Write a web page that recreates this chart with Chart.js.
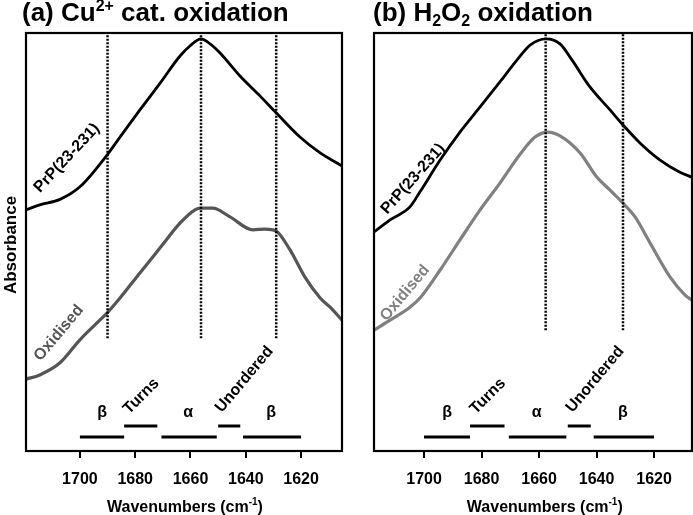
<!DOCTYPE html>
<html><head><meta charset="utf-8">
<script src="https://cdn.jsdelivr.net/npm/chart.js@4.4.1/dist/chart.umd.min.js"></script>
<style>
html,body{margin:0;padding:0;background:#fff;}
#wrap{position:relative;width:693px;height:515px;overflow:hidden;background:#fff;}
canvas{position:absolute;top:0;}
</style></head><body>
<div id="wrap">
<canvas id="ca" width="350" height="515" style="left:0px"></canvas>
<canvas id="cb" width="343" height="515" style="left:350px"></canvas>
</div>
<script>
// ---------- data ----------
const tickValues = [1700, 1680, 1660, 1640, 1620];

// Panel (a) Cu2+ catalysed oxidation
const wnA_prp  = [1719.5,1714.5,1707.2,1700,1690.2,1685.5,1678.3,1671.0,1663.8,1660.2,1656.2,1652.9,1649.3,1642.1,1634.8,1629.0,1620.4,1613.1,1605.2];
const absA_prp = [57.7,58.9,60.2,63.2,70.8,75.1,81.6,88.0,94.5,96.9,98.6,97.4,95.2,89.7,84.9,80.9,75.1,71.3,68.2];
const wnA_ox   = [1719.5,1714.5,1707.2,1700,1692.8,1690.2,1685.5,1678.3,1671.0,1663.8,1658.4,1656.2,1651.9,1645.7,1637.4,1633.0,1629.0,1624.0,1618.6,1613.1,1609.5,1605.2];
const absA_ox  = [17.2,18.2,21.1,26.6,31.3,33.0,36.6,42.6,48.6,54.5,57.7,58.1,58.1,56.0,52.9,53.1,52.6,48.1,41.6,36.6,34.4,31.3];
const markersA = [1690, 1656.2, 1629];

// Panel (b) H2O2 oxidation
const wnB_prp  = [1717.4,1711.8,1704.9,1701.4,1694.4,1687.5,1680.5,1673.6,1667.7,1663.1,1657.6,1652.7,1648.5,1642.3,1635.3,1630.8,1624.9,1617.9,1611.0,1606.8];
const absB_prp = [52.4,55.3,58.4,62.0,69.6,76.3,82.3,88.3,93.5,97.1,98.6,97.4,93.5,87.1,81.6,78.0,73.7,69.6,66.7,65.5];
const wnB_ox   = [1717.4,1711.8,1704.9,1701.4,1694.4,1687.5,1680.5,1673.6,1666.6,1661.4,1656.9,1652.7,1645.7,1640.2,1635.3,1630.8,1626.6,1621.4,1614.4,1609.2,1606.8];
const absB_ox  = [28.9,31.3,34.4,36.6,43.3,50.5,57.7,64.1,71.0,75.1,76.3,75.4,71.3,65.8,62.4,59.3,56.0,49.8,41.6,37.3,36.1];
const markersB = [1657.7, 1630.8];

// Band assignments
const bandNames = ['β', 'Turns', 'α', 'Unordered', 'β'];
const bandStart = [1700, 1684, 1670.5, 1650, 1641];
const bandEnd   = [1684, 1672, 1650.5, 1642, 1620];
const bandLevel = [3.35, 5.98, 3.35, 5.98, 3.35];

// ---------- helpers ----------
const FONT = '"Liberation Sans", Arial, Helvetica, sans-serif';
const pts = (xs, ys) => xs.map((x, i) => ({x: x, y: ys[i]}));

function drawRuns(ctx, x, y, runs, align) {
  let total = 0;
  runs.forEach(r => { ctx.font = 'bold ' + r.size + 'px ' + FONT; r.w = ctx.measureText(r.t).width; total += r.w; });
  let cx = align === 'center' ? x - total / 2 : x;
  ctx.textAlign = 'left';
  ctx.textBaseline = 'alphabetic';
  runs.forEach(r => { ctx.font = 'bold ' + r.size + 'px ' + FONT; ctx.fillText(r.t, cx, y + (r.dy || 0)); cx += r.w; });
}

function rotText(ctx, text, x, y, deg, size, color) {
  ctx.save();
  ctx.translate(x, y);
  ctx.rotate(deg * Math.PI / 180);
  ctx.font = 'bold ' + size + 'px ' + FONT;
  ctx.fillStyle = color;
  ctx.textAlign = 'center';
  ctx.textBaseline = 'middle';
  ctx.fillText(text, 0, 0);
  ctx.restore();
}

function makeChart(canvas, cfg) {
  const datasets = [];
  cfg.markers.forEach(m => datasets.push({
    data: [{x: m, y: cfg.markerBottom}, {x: m, y: 100}],
    showLine: true, borderColor: '#000', borderWidth: 2.5, borderDash: [2, 1.5], pointRadius: 0
  }));
  bandNames.forEach((n, i) => datasets.push({
    data: [{x: bandStart[i], y: bandLevel[i]}, {x: bandEnd[i], y: bandLevel[i]}],
    showLine: true, borderColor: '#000', borderWidth: 3, pointRadius: 0, borderCapStyle: 'butt'
  }));
  datasets.push({data: pts(cfg.wnOx, cfg.absOx), showLine: true, borderColor: cfg.oxColor, borderWidth: 3.2, pointRadius: 0, cubicInterpolationMode: 'monotone'});
  datasets.push({data: pts(cfg.wnPrp, cfg.absPrp), showLine: true, borderColor: '#000', borderWidth: 2.8, pointRadius: 0, cubicInterpolationMode: 'monotone'});

  const decor = {
    id: 'decor',
    afterDraw(chart) {
      const ctx = chart.ctx, a = chart.chartArea, xs = chart.scales.x, ys = chart.scales.y;
      ctx.save();
      ctx.strokeStyle = '#000';
      ctx.lineWidth = 2.2;
      ctx.strokeRect(a.left, a.top, a.right - a.left, a.bottom - a.top);
      ctx.fillStyle = '#000';
      rotText(ctx, 'PrP(23-231)', xs.getPixelForValue(cfg.prpLab[0]), ys.getPixelForValue(cfg.prpLab[1]), cfg.prpLab[2], 16, '#000');
      rotText(ctx, 'Oxidised', xs.getPixelForValue(cfg.oxLab[0]), ys.getPixelForValue(cfg.oxLab[1]), cfg.oxLab[2], 16, cfg.oxColor);
      const bandLabWn = [1692, 1677.8, 1660.8, 1640.5, 1630.8];
      const bandLabY  = [9.3, 13.1, 9.3, 17.1, 9.3];
      const bandLabRot = [0, -45, 0, -50, 0];
      bandNames.forEach((n, i) => {
        rotText(ctx, n, xs.getPixelForValue(bandLabWn[i]), ys.getPixelForValue(bandLabY[i]), bandLabRot[i], 16, '#000');
      });
      ctx.fillStyle = '#000';
      drawRuns(ctx, cfg.titleX, 21, cfg.title, 'left');
      drawRuns(ctx, xs.getPixelForValue(cfg.axisWn), 512, [
        {t: 'Wavenumbers (cm', size: 16}, {t: '-1', size: 10, dy: -7}, {t: ')', size: 16}], 'center');
      if (cfg.ylabel) {
        ctx.save();
        ctx.translate(11, 245);
        ctx.rotate(-Math.PI / 2);
        ctx.font = 'bold 17px ' + FONT;
        ctx.textAlign = 'center';
        ctx.textBaseline = 'middle';
        ctx.fillText('Absorbance', 0, 0);
        ctx.restore();
      }
      ctx.restore();
    }
  };

  return new Chart(canvas, {
    type: 'scatter',
    data: {datasets: datasets},
    options: {
      responsive: false, animation: false, devicePixelRatio: 1,
      layout: {padding: {left: cfg.padLeft, right: cfg.padRight, top: 33, bottom: 0}},
      plugins: {legend: {display: false}, tooltip: {enabled: false}},
      scales: {
        x: {
          type: 'linear', reverse: true, min: cfg.xmin, max: cfg.xmax,
          afterBuildTicks: s => { s.ticks = tickValues.map(v => ({value: v})); },
          afterFit: s => { s.height = 64; },
          grid: {drawOnChartArea: false, drawTicks: true, tickLength: 7, color: '#000', lineWidth: 2},
          border: {display: false},
          ticks: {color: '#000', font: {family: FONT, size: 16, weight: 'bold'}, padding: 12, maxRotation: 0, autoSkip: false,
                  callback: v => String(v)}
        },
        y: {display: false, min: 0, max: 100}
      }
    },
    plugins: [decor]
  });
}

makeChart(document.getElementById('ca'), {
  padLeft: 26, padRight: 8, xmin: 1605.2, xmax: 1719.5,
  wnPrp: wnA_prp, absPrp: absA_prp, wnOx: wnA_ox, absOx: absA_ox, oxColor: '#555555',
  markers: markersA, markerBottom: 27.0,
  prpLab: [1704.7, 70.1, -47], oxLab: [1707.6, 28.2, -50],
  titleX: 22, axisWn: 1662,
  title: [{t: '(a) Cu', size: 26}, {t: '2+', size: 16, dy: -10}, {t: ' cat. oxidation', size: 26}],
  ylabel: true
});
makeChart(document.getElementById('cb'), {
  padLeft: 24, padRight: 1, xmin: 1606.8, xmax: 1717.4,
  wnPrp: wnB_prp, absPrp: absB_prp, wnOx: wnB_ox, absOx: absB_ox, oxColor: '#808080',
  markers: markersB, markerBottom: 28.9,
  prpLab: [1703.8, 65.1, -48.5], oxLab: [1706.6, 37.8, -50],
  titleX: 23, axisWn: 1658,
  title: [{t: '(b) H', size: 26}, {t: '2', size: 16, dy: 5}, {t: 'O', size: 26}, {t: '2', size: 16, dy: 5}, {t: ' oxidation', size: 26}],
  ylabel: false
});
</script>
</body></html>
